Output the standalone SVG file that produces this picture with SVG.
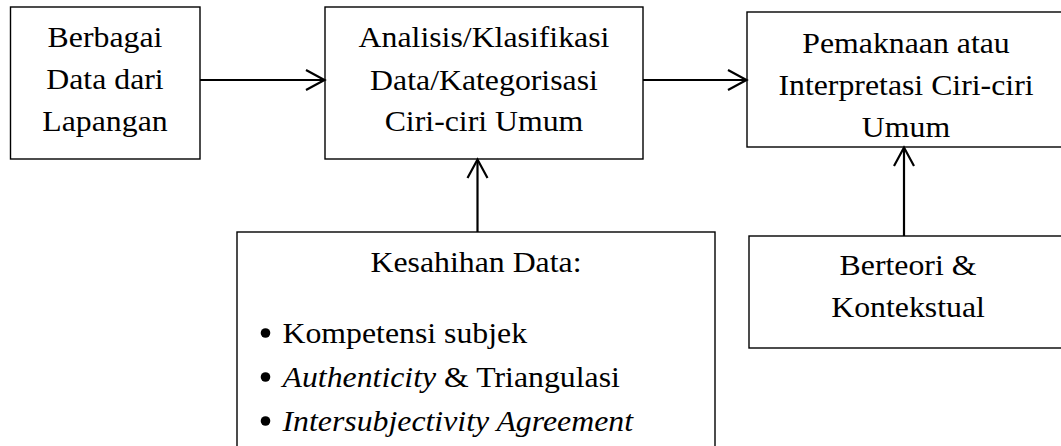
<svg xmlns="http://www.w3.org/2000/svg" width="1061" height="446" viewBox="0 0 1061 446">
  <style>
    .box { fill: #ffffff; stroke: #000000; stroke-width: 1.4; }
    .t { font-family: "Liberation Serif", "Times New Roman", serif; font-size: 30px; fill: #000000; }
    .c { text-anchor: middle; }
    .i { font-style: italic; }
    .wire { fill: none; stroke: #000000; stroke-width: 2.2; }
    .head { fill: none; stroke: #000000; stroke-width: 2.2; stroke-linejoin: miter; stroke-linecap: butt; }
  </style>
  <rect width="1061" height="446" fill="#ffffff"/>

  <!-- text is set slightly wide: translate to the anchor, then stretch horizontally -->
  <g id="node-data">
    <rect class="box" x="10.5" y="7" width="189.5" height="152"/>
    <text class="t c" transform="translate(105 47) scale(1.06 1)">Berbagai</text>
    <text class="t c" transform="translate(105 89) scale(1.06 1)">Data dari</text>
    <text class="t c" transform="translate(105 131) scale(1.06 1)">Lapangan</text>
  </g>

  <g id="node-analisis">
    <rect class="box" x="325" y="7" width="318" height="152"/>
    <text class="t c" transform="translate(484 47) scale(1.06 1)">Analisis/Klasifikasi</text>
    <text class="t c" transform="translate(484 90) scale(1.06 1)">Data/Kategorisasi</text>
    <text class="t c" transform="translate(484 131) scale(1.06 1)">Ciri-ciri Umum</text>
  </g>

  <g id="node-pemaknaan">
    <rect class="box" x="747" y="12" width="320" height="135"/>
    <text class="t c" transform="translate(906 53) scale(1.06 1)">Pemaknaan atau</text>
    <text class="t c" transform="translate(906 95) scale(1.06 1)">Interpretasi Ciri-ciri</text>
    <text class="t c" transform="translate(906 137) scale(1.06 1)">Umum</text>
  </g>

  <g id="node-kesahihan">
    <rect class="box" x="237" y="232" width="478" height="230"/>
    <text class="t c" transform="translate(476 272) scale(1.06 1)">Kesahihan Data:</text>
    <circle cx="265.5" cy="333" r="4.8" fill="#000000"/>
    <text class="t" transform="translate(282.5 343) scale(1.06 1)">Kompetensi subjek</text>
    <circle cx="265.5" cy="377" r="4.8" fill="#000000"/>
    <text class="t" transform="translate(282.5 387) scale(1.06 1)"><tspan class="i">Authenticity</tspan> &amp; Triangulasi</text>
    <circle cx="265.5" cy="421" r="4.8" fill="#000000"/>
    <text class="t i" transform="translate(282.5 431) scale(1.06 1)">Intersubjectivity Agreement</text>
  </g>

  <g id="node-berteori">
    <rect class="box" x="749" y="236" width="320" height="112"/>
    <text class="t c" transform="translate(908 275) scale(1.06 1)">Berteori &amp;</text>
    <text class="t c" transform="translate(908 317) scale(1.06 1)">Kontekstual</text>
  </g>

  <g id="connectors">
    <line class="wire" x1="200" y1="80" x2="324" y2="80"/>
    <polyline class="head" points="306,70 324.5,80 306,90"/>
    <line class="wire" x1="643" y1="80" x2="746" y2="80"/>
    <polyline class="head" points="728,70 746.5,80 728,90"/>
    <line class="wire" x1="477.5" y1="232" x2="477.5" y2="160"/>
    <polyline class="head" points="467.5,178 477.5,159.5 487.5,178"/>
    <line class="wire" x1="904" y1="236" x2="904" y2="148"/>
    <polyline class="head" points="894,166 904,147.5 914,166"/>
  </g>
</svg>
